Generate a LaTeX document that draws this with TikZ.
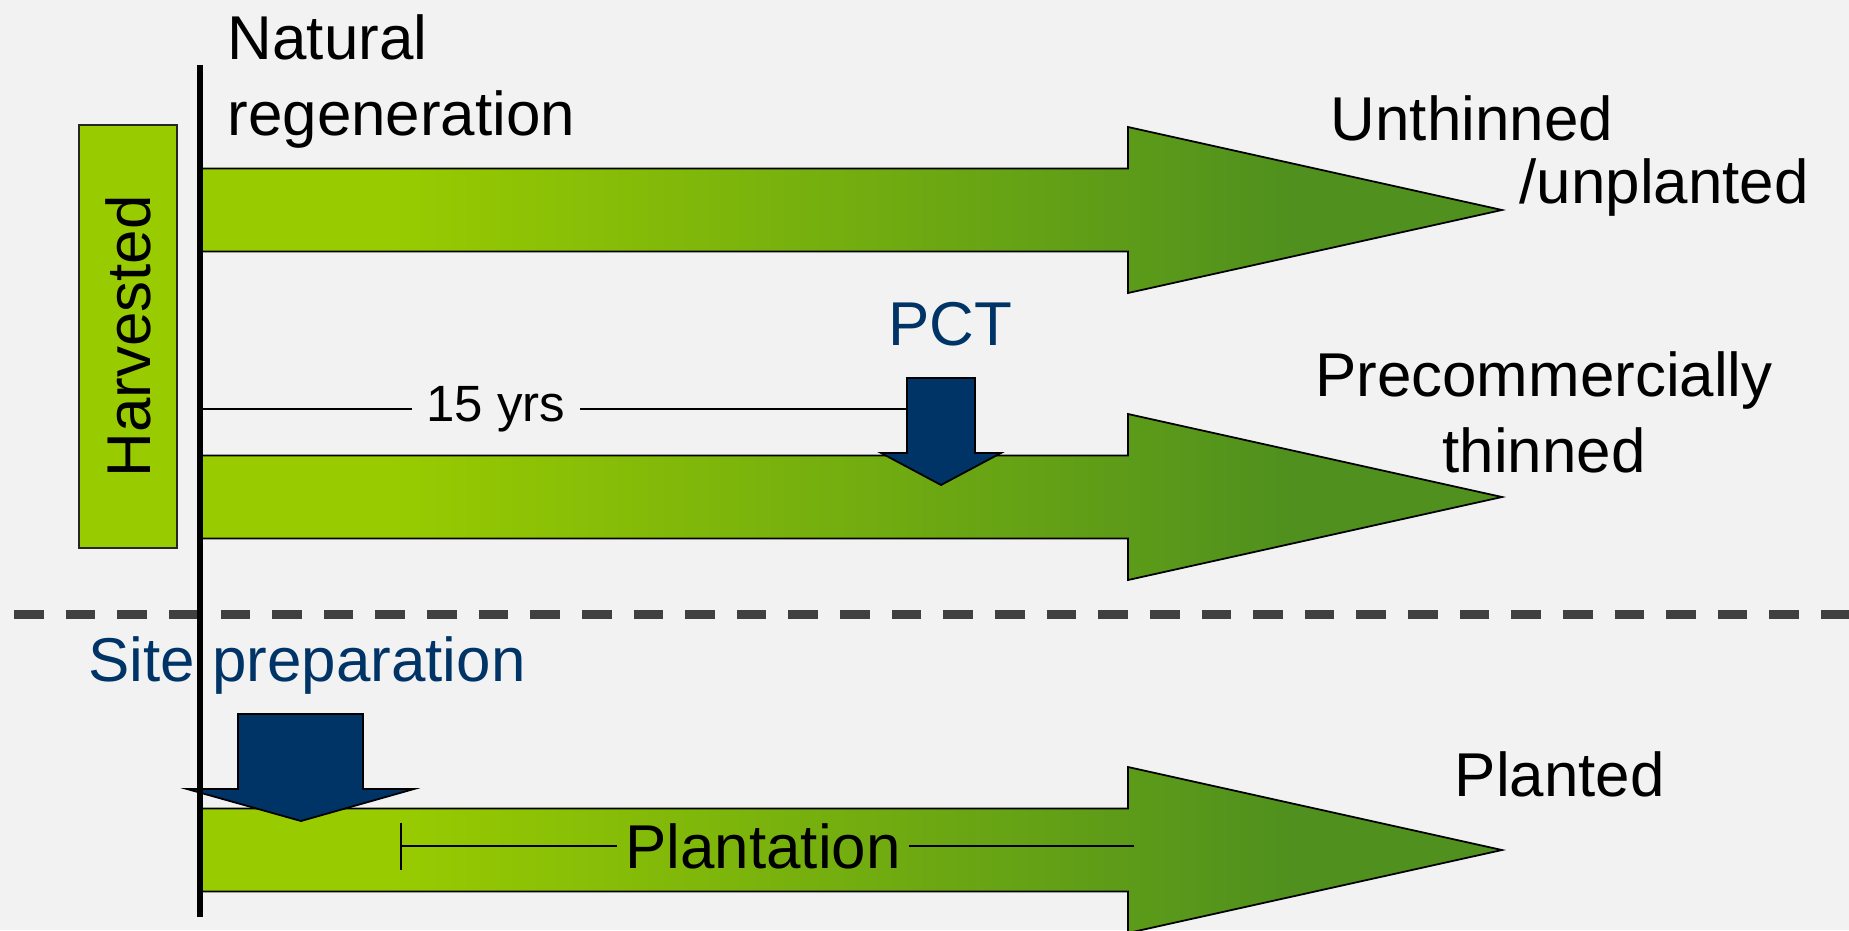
\documentclass[tikz,border=0pt]{standalone}
\usepackage{fontspec}
\setmainfont{Liberation Sans}
\usetikzlibrary{arrows.meta}

\definecolor{pagebg}{HTML}{F2F2F2}
\definecolor{leaf}{HTML}{99CC00}
\definecolor{moss}{HTML}{4F901E}
\definecolor{navy}{HTML}{003366}
\definecolor{rule}{HTML}{404040}

% light green on the left, darker towards the tip
\pgfdeclarehorizontalshading{stemfade}{100bp}{color(0bp)=(leaf); color(32bp)=(leaf); color(67bp)=(moss); color(100bp)=(moss)}

\begin{document}
\begin{tikzpicture}[
                        x=0.01cm, y=-0.01cm,
                        >=Latex,
                        txt/.style={inner sep=0pt, font=\fontsize{17.6}{21.5}\selectfont},
                        smalltxt/.style={inner sep=0pt, inner xsep=0.14cm, font=\fontsize{14.5}{17}\selectfont},
                        stem/.style={shading=stemfade, draw=black, line width=0.5pt},
                        drop/.style={fill=navy, draw=black, line width=0.5pt},
                        harvbox/.style={txt, draw=black!85, fill=leaf, line width=0.45pt, minimum width=4.23cm, minimum height=0.98cm, rotate=90}
                    ]
                    \useasboundingbox (0,0) rectangle (1849,930);
                    \fill[pagebg] (0,0) rectangle (1849,930);

                    % Stand development arrows
                    \foreach \yc in {210,497,850}
                        \shadedraw[stem] (200,\yc-41.5) -- (1128,\yc-41.5) -- (1128,\yc-83) -- (1502,\yc) -- (1128,\yc+83) -- (1128,\yc+41.5) -- (200,\yc+41.5) -- cycle;

                    % Separator
                    \draw[rule, line width=0.09cm, dash pattern=on 0.296cm off 0.22cm] (14,614) -- (1849,614);

                    % Blocks
                    \node[harvbox] (harvested) at (128,336.5) {Harvested};
                    \node[txt, anchor=north west, align=left] (natural) at (227,14) {Natural\\regeneration};
                    \node[txt, anchor=base west] (unthinned) at (1330,140) {Unthinned};
                    \node[txt, anchor=base west] (unplanted) at (1519,203) {/unplanted};
                    \node[txt, anchor=north, align=center] (precomm) at (1544,351) {Precommercially\\thinned};
                    \node[txt, anchor=base west] (planted) at (1454,796) {Planted};
                    \node[txt, anchor=base, text=navy] (pct) at (950,345) {PCT};
                    \node[txt, anchor=base west, text=navy] (siteprep) at (88,681) {Site preparation};

                    % Time spans
                    \coordinate (yrsstart) at (200,409);
                    \coordinate (yrsend) at (910,409);
                    \node[smalltxt] (yrs) at (496,409) {15 yrs};
                    \draw[line width=0.45pt] (yrsstart) -- (yrs.west);
                    \draw[line width=0.45pt] (yrs.east) -- (yrsend);

                    \coordinate (plantstart) at (400,846);
                    \coordinate (plantend) at (1134,846);
                    \node[txt, inner xsep=0.08cm] (plantation) at (763,846) {Plantation};
                    \draw[{Bar[width=0.47cm]}-, line width=0.6pt] (plantstart) -- (plantation.west);
                    \draw[line width=0.6pt] (plantation.east) -- (plantend);

                    % Treatments
                    \draw[drop] (907,378) -- (975,378) -- (975,453) -- (1001,453) -- (941,485) -- (881,453) -- (907,453) -- cycle;
                    \draw[drop] (238,714) -- (363,714) -- (363,789) -- (414,789) -- (301,821) -- (187,789) -- (238,789) -- cycle;

                    % Harvest line
                    \draw[line width=1.6pt] (200,65) -- (200,917);
                \end{tikzpicture}
\end{document}
